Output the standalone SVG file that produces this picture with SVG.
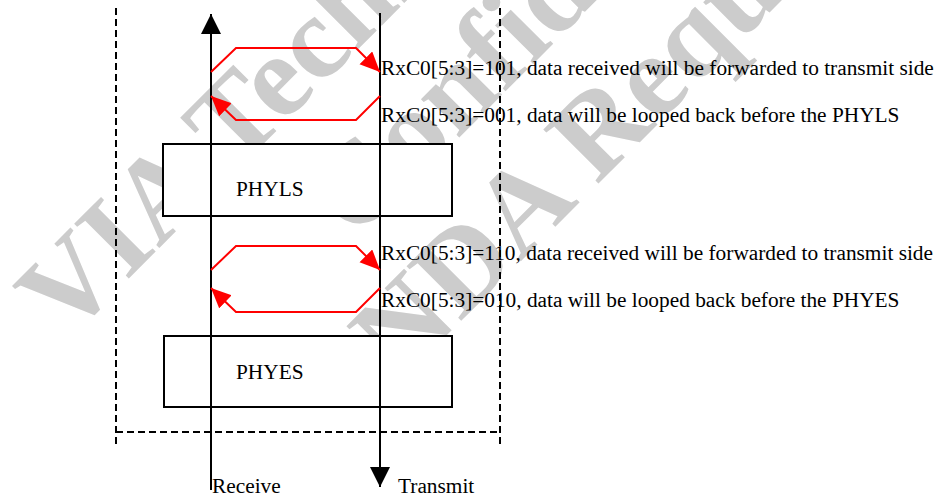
<svg xmlns="http://www.w3.org/2000/svg" width="935" height="499" viewBox="0 0 935 499">
<style>
.wm{font-family:"Liberation Serif","Times New Roman",serif;font-weight:bold;font-size:118px;fill:#cccccc}
.t{font-family:"Liberation Serif","Times New Roman",serif;font-size:21.33px;fill:#000}
.box{fill:#fff;stroke:#000;stroke-width:2}
.dash{fill:none;stroke:#000;stroke-width:2;stroke-dasharray:7 4}
.sig{fill:none;stroke:#000;stroke-width:2}
.loop{fill:none;stroke:#ff0000;stroke-width:2}
</style>
<defs>
<marker id="ra" markerUnits="userSpaceOnUse" markerWidth="22" markerHeight="20" refX="20" refY="9" orient="auto">
<path d="M0,0 L20,9 L0,18 z" fill="#ff0000"/>
</marker>
<marker id="ba" markerUnits="userSpaceOnUse" markerWidth="22" markerHeight="22" refX="20" refY="10" orient="auto">
<path d="M0,0 L20,10 L0,20 z" fill="#000"/>
</marker>
</defs>
<rect width="935" height="499" fill="#fff"/>
<g id="watermark" transform="rotate(-45)">
<text class="wm" x="-195" y="288">VIA Technologies</text>
<text class="wm" x="80" y="422">Confidential</text>
<text class="wm" x="12" y="553">NDA Required</text>
</g>
<g id="boundary">
<line class="dash" x1="116" y1="8" x2="116" y2="445"/>
<line class="dash" x1="500" y1="8" x2="500" y2="445"/>
<line class="dash" x1="116" y1="432" x2="500" y2="432"/>
</g>
<g id="PHYLS">
<rect class="box" x="163" y="144" width="289" height="72"/>
<text class="t" x="236" y="196">PHYLS</text>
</g>
<g id="PHYES">
<rect class="box" x="164" y="336" width="288" height="71"/>
<text class="t" x="236" y="379">PHYES</text>
</g>
<g id="connectors">
<line class="sig" x1="211" y1="490" x2="211" y2="14" marker-end="url(#ba)"/>
<line class="sig" x1="380" y1="13" x2="380" y2="487" marker-end="url(#ba)"/>
<polyline class="loop" points="211,72 236,48 356,48 380,72" marker-end="url(#ra)"/>
<polyline class="loop" points="380,96 356,120 236,120 211,96" marker-end="url(#ra)"/>
<polyline class="loop" points="211,270 236,246 356,246 380,270" marker-end="url(#ra)"/>
<polyline class="loop" points="380,288 356,312 236,312 211,288" marker-end="url(#ra)"/>
</g>
<g id="labels">
<text class="t" x="381" y="75">RxC0[5:3]=101, data received will be forwarded to transmit side</text>
<text class="t" x="381" y="122">RxC0[5:3]=001, data will be looped back before the PHYLS</text>
<text class="t" x="381" y="260">RxC0[5:3]=110, data received will be forwarded to transmit side</text>
<text class="t" x="381" y="307">RxC0[5:3]=010, data will be looped back before the PHYES</text>
<text class="t" x="212" y="493">Receive</text>
<text class="t" x="398" y="493">Transmit</text>
</g>
</svg>
